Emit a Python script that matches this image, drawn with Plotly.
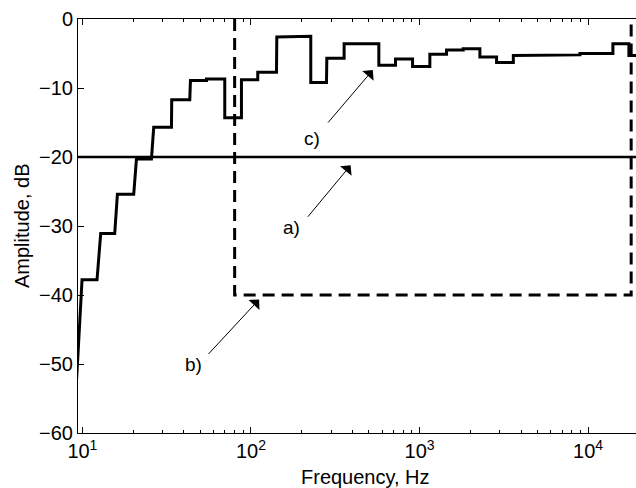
import plotly.graph_objects as go
import numpy as np

# ---- data ----
band_lo_hz = [8.0, 9.95, 12.84, 16.13, 20.92, 26.49, 33.88, 43.75, 54.44, 69.9, 87.8, 109.7,
              142.3, 178, 226.3, 281.8, 356.9, 450, 573.5, 720, 909, 1151, 1446, 1815, 2280,
              2864, 3600, 4500, 5650, 7100, 8940, 11200, 14030, 17450]
band_hi_hz = [9.25, 12.21, 15.55, 20.16, 25.68, 33.75, 43.35, 54.44, 69.9, 87.8, 109.7, 141.7,
              178, 226.3, 280.5, 356.9, 450, 573.5, 720, 909, 1151, 1446, 1815, 2280, 2864,
              3600, 4500, 5650, 7100, 8940, 11200, 14030, 17450, 22000]
level_db = [-52, -37.8, -31.1, -25.4, -20.3, -15.7, -11.7, -8.9, -8.7, -14.3, -8.8, -7.7,
            -2.6, -2.5, -9.2, -5.7, -3.6, -3.6, -6.7, -5.8, -6.9, -5.1, -4.5, -4.3, -5.5,
            -6.3, -5.3, -5.3, -5.2, -5.2, -5.0, -5.0, -3.6, -5.3]

threshold_db = -20          # a) solid reference line
box_f_lo, box_f_hi = 80, 18000   # b) dashed box
box_top, box_bottom = 0, -40

x_tick_vals = [10, 100, 1000, 10000]
x_tick_text = ["10<sup>1</sup>", "10<sup>2</sup>", "10<sup>3</sup>", "10<sup>4</sup>"]
x_minor_vals = [m * 10 ** d for d in range(0, 5) for m in range(2, 10)]

# annotations: label, tip (Hz, dB), label position (Hz, dB)
ann_labels = ["c)", "a)", "b)"]
ann_tip_hz = [528, 390, 111.7]
ann_tip_db = [-7.4, -21.2, -40.65]
ann_txt_hz = [229.5, 173.9, 45.8]
ann_txt_db = [-17.3, -30.2, -50.1]
ann_tail_px = [(-46, 54), (-44, 53), (-52, 56)]

# ---- build step curve ----
xs, ys = [], []
for lo, hi, lv in zip(band_lo_hz, band_hi_hz, level_db):
    xs += [lo, hi]
    ys += [lv, lv]

FONT = "Liberation Sans, Arial, Helvetica, sans-serif"
W, H = 636, 488
ML, MR, MT, MB = 78, 0, 19, 55

fig = go.Figure()
fig.add_trace(go.Scatter(x=xs, y=ys, mode="lines",
                         line=dict(color="black", width=3), showlegend=False))
fig.add_trace(go.Scatter(x=[box_f_lo, box_f_lo, box_f_hi, box_f_hi],
                         y=[box_top, box_bottom, box_bottom, box_top], mode="lines",
                         line=dict(color="black", width=3, dash="12px,7px"),
                         showlegend=False, cliponaxis=False))
fig.add_shape(type="line", xref="paper", x0=0, x1=1, yref="y", y0=threshold_db,
              y1=threshold_db, line=dict(color="black", width=2.5))

for lab, th, td, lh, ld, (ax, ay) in zip(ann_labels, ann_tip_hz, ann_tip_db,
                                          ann_txt_hz, ann_txt_db, ann_tail_px):
    fig.add_annotation(x=np.log10(th), y=td, ax=ax, ay=ay, text="", showarrow=True,
                       arrowhead=1, arrowsize=2.5, arrowwidth=1, arrowcolor="black",
                       standoff=0, startstandoff=0)
    fig.add_annotation(x=np.log10(lh), y=ld, text=lab, showarrow=False,
                       font=dict(size=19, color="black", family=FONT))

# axis titles as annotations (exact placement)
fig.add_annotation(xref="paper", yref="paper", x=(365 - ML) / (W - ML - MR),
                   y=-(477 - (H - MB)) / (H - MT - MB),
                   text="Frequency, Hz", showarrow=False, xanchor="center", yanchor="middle",
                   font=dict(size=20, color="black", family=FONT))
fig.add_annotation(xref="paper", yref="paper", x=-(ML - 22) / (W - ML - MR),
                   y=((H - MB) - 226) / (H - MT - MB), textangle=-90,
                   text="Amplitude, dB", showarrow=False, xanchor="center", yanchor="middle",
                   font=dict(size=20, color="black", family=FONT))

fig.update_xaxes(type="log", range=[0.9739, 4.284], automargin=False,
                 tickmode="array", tickvals=x_tick_vals, ticktext=x_tick_text,
                 ticks="inside", ticklen=6, tickcolor="black",
                 minor=dict(tickmode="array", tickvals=x_minor_vals, ticks="inside",
                            ticklen=3, tickcolor="black", showgrid=False),
                 showline=True, linecolor="black", linewidth=1, mirror="allticks",
                 showgrid=False, zeroline=False,
                 tickfont=dict(size=20, color="black", family=FONT))
fig.update_yaxes(range=[-60, 0], automargin=False, tickmode="array",
                 tickvals=[0, -10, -20, -30, -40, -50, -60],
                 ticks="inside", ticklen=6, tickcolor="black",
                 showline=True, linecolor="black", linewidth=1, mirror=False,
                 showgrid=False, zeroline=False,
                 tickfont=dict(size=20, color="black", family=FONT))

fig.update_layout(width=W, height=H, margin=dict(l=ML, r=MR, t=MT, b=MB, autoexpand=False),
                  paper_bgcolor="white", plot_bgcolor="white",
                  font=dict(family=FONT, color="black"))

fig.write_html("out.html", config={"displayModeBar": False},
               post_script="document.body.style.margin='0px';document.body.style.overflow='hidden';")
